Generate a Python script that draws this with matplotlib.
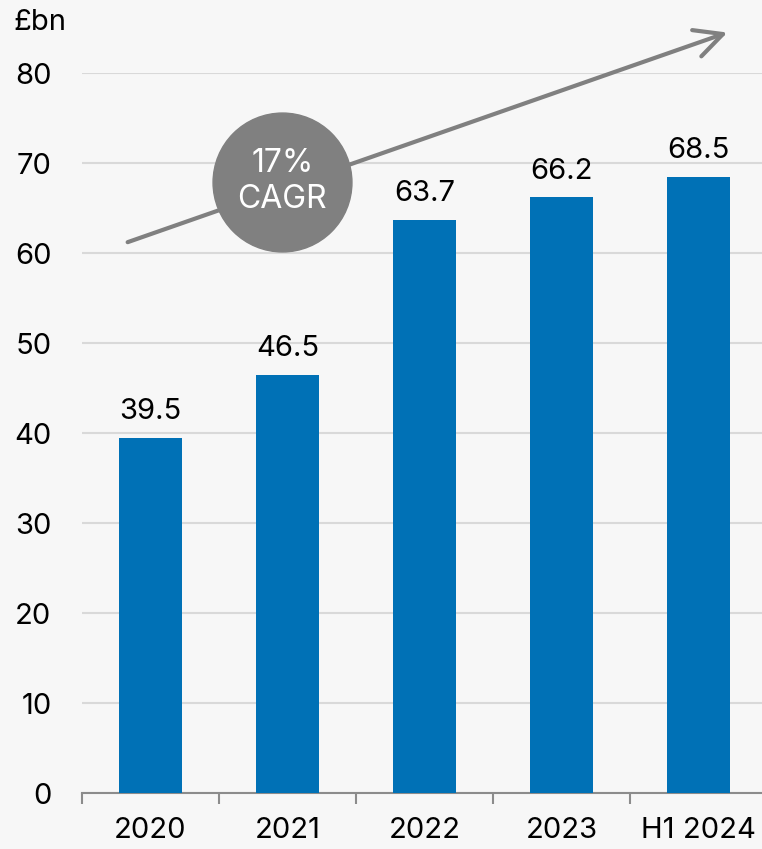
import numpy as np
import matplotlib.pyplot as plt

plt.rcParams['font.family'] = ['Inter', 'DejaVu Sans']

# Gross lending by period, £bn
periods = ['2020', '2021', '2022', '2023', 'H1 2024']
values = [39.5, 46.5, 63.7, 66.2, 68.5]
cagr_label = '17%\nCAGR'

bg = '#f7f7f7'
blue = '#0071b6'
grey = '#808080'

fig = plt.figure(figsize=(7.62, 8.49), dpi=100, facecolor=bg)
ax = fig.add_axes([82 / 762, 56 / 849, 685 / 762, 720 / 849])
ax.set_facecolor(bg)

x = np.arange(len(periods))
bars = ax.bar(x, values, width=0.455, color=blue, zorder=3)

# value labels above each bar
for xi, v in zip(x, values):
    ax.annotate(f'{v:.1f}', (xi, v), xytext=(0, 9), textcoords='offset points',
                ha='center', va='bottom', fontsize=21, color='black')

ax.set_xlim(-0.5, len(periods) - 0.5)
ax.set_ylim(0, 80)
ax.set_yticks(np.arange(0, 81, 10))
ax.yaxis.grid(True, color='#d9d9d9', linewidth=1.5, zorder=0)
ax.tick_params(axis='y', length=0, pad=22, labelsize=21)

# category ticks sit between the bars
ax.set_xticks(x)
ax.set_xticklabels(periods, fontsize=21)
ax.set_xticks(np.arange(len(periods)) - 0.5, minor=True)
ax.tick_params(axis='x', which='major', length=0, pad=17)
ax.tick_params(axis='x', which='minor', length=8, width=1.5, color='#8c8c8c')

for side in ['left', 'right', 'top']:
    ax.spines[side].set_visible(False)
ax.spines['bottom'].set_color('#8c8c8c')
ax.spines['bottom'].set_linewidth(1.5)

# growth arrow and CAGR badge
ax.annotate('', xy=(4.23, 84.6), xytext=(-0.186, 61.1),
            arrowprops=dict(arrowstyle='->,head_length=1.0,head_width=0.5',
                            color=grey, lw=3, mutation_scale=20),
            annotation_clip=False, zorder=4)
ax.scatter([0.963], [67.9], s=100 ** 2, color=grey, zorder=5, clip_on=False)
ax.text(0.963, 67.9, cagr_label, ha='center', va='center', fontsize=23,
        color='white', linespacing=1.2, zorder=6)

fig.text(13 / 762, 1 - 22 / 849, '£bn', ha='left', va='center', fontsize=21)

fig.savefig('out.png', dpi=100, facecolor=bg)
